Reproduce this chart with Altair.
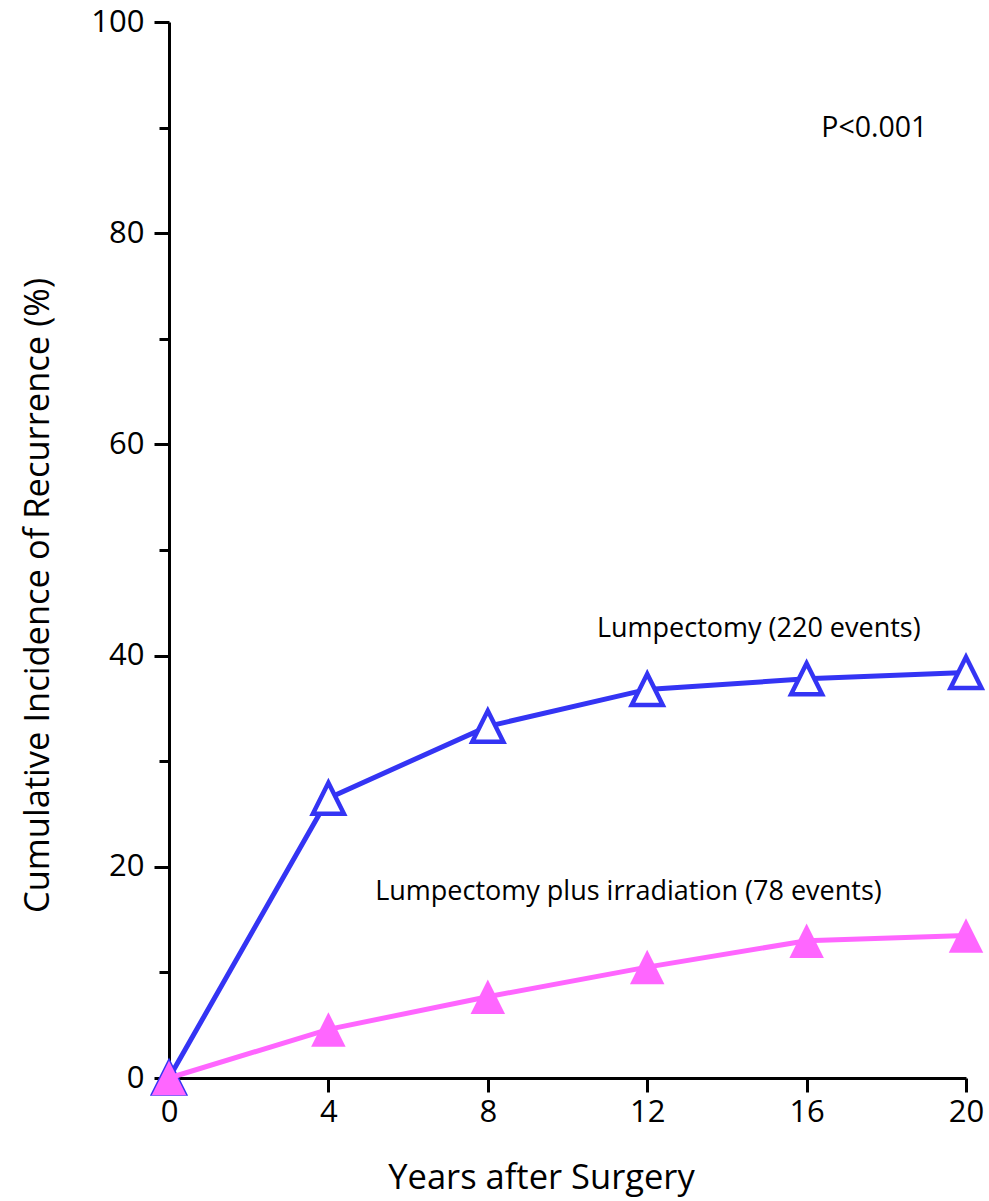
import altair as alt
import pandas as pd

# ---- data ----
years = [0, 4, 8, 12, 16, 20]
lumpectomy = [0, 26.5, 33.3, 36.8, 37.8, 38.4]
lump_irradiation = [0, 4.6, 7.7, 10.5, 13.0, 13.5]

x_ticks = [0, 4, 8, 12, 16, 20]
y_ticks = [0, 10, 20, 30, 40, 50, 60, 70, 80, 90, 100]

p_label = ["P<0.001"]
p_x = [17.7]
p_y = [89.1]
ann_labels = ["Lumpectomy (220 events)", "Lumpectomy plus irradiation (78 events)"]
ann_x = [14.8, 11.53]
ann_y = [41.8, 16.9]

BLUE = "#3434F4"
PINK = "#FF66FF"
FONT = "Open Sans"
TRI = "M0,-1L-1,1L1,1Z"

df_a = pd.DataFrame({"x": years, "y": lumpectomy})
df_b = pd.DataFrame({"x": years, "y": lump_irradiation})
df_p = pd.DataFrame({"x": p_x, "y": p_y, "label": p_label})
df_t = pd.DataFrame({"x": ann_x, "y": ann_y, "label": ann_labels})

xscale = alt.Scale(domain=[0, 20], nice=False, zero=False)
yscale = alt.Scale(domain=[0, 100], nice=False)

xaxis = alt.Axis(
    values=x_ticks, title="Years after Surgery", grid=False, labelFlush=False,
    domainColor="black", domainWidth=3, tickColor="black", tickWidth=3, tickSize=14,
    labelFont=FONT, labelFontSize=31, labelColor="black", labelPadding=5,
    titleFont=FONT, titleFontSize=34.5, titleFontWeight="normal", titleColor="black",
    titleX=372, titleY=110, titleBaseline="alphabetic",
)
yaxis = alt.Axis(
    values=y_ticks, title="Cumulative Incidence of Recurrence (%)", grid=False, labelFlush=False,
    domainColor="black", domainWidth=3, tickColor="black", tickWidth=3,
    tickSize={"condition": {"test": "datum.value % 20 === 0", "value": 15}, "value": 10},
    labelExpr="datum.value % 20 === 0 ? datum.label : ''",
    labelFont=FONT, labelFontSize=31, labelColor="black", labelPadding=10,
    titleFont=FONT, titleFontSize=34.5, titleFontWeight="normal", titleColor="black",
    titleAngle=270, titleX=-131, titleY=573, titleBaseline="middle",
)


def enc(ch):
    return ch.encode(
        x=alt.X("x:Q", scale=xscale, axis=xaxis),
        y=alt.Y("y:Q", scale=yscale, axis=yaxis),
    )


line_a = enc(alt.Chart(df_a).mark_line(color=BLUE, strokeWidth=5))
pts_a = enc(alt.Chart(df_a).mark_point(shape=TRI, size=961, filled=True, fill="white",
                                       stroke=BLUE, strokeWidth=4.5, opacity=1))
line_b = enc(alt.Chart(df_b).mark_line(color=PINK, strokeWidth=5))
pts_b = enc(alt.Chart(df_b).mark_point(shape=TRI, size=1190, filled=True, fill=PINK,
                                       strokeWidth=0, opacity=1))
text_p = enc(alt.Chart(df_p).mark_text(font=FONT, fontSize=28.5, color="black",
                                       align="center", baseline="alphabetic")).encode(text="label:N")
text = enc(alt.Chart(df_t).mark_text(font=FONT, fontSize=27, color="black",
                                     align="center", baseline="alphabetic")).encode(text="label:N")

chart = alt.layer(line_a, pts_a, line_b, pts_b, text_p, text).properties(
    width=797, height=1056,
    padding={"left": 169, "top": 22, "right": 23, "bottom": 123},
    autosize=alt.AutoSizeParams(type="none"),
    background="white",
).configure_view(stroke=None)

chart.save("out.html", embed_options={"renderer": "svg", "actions": False})
